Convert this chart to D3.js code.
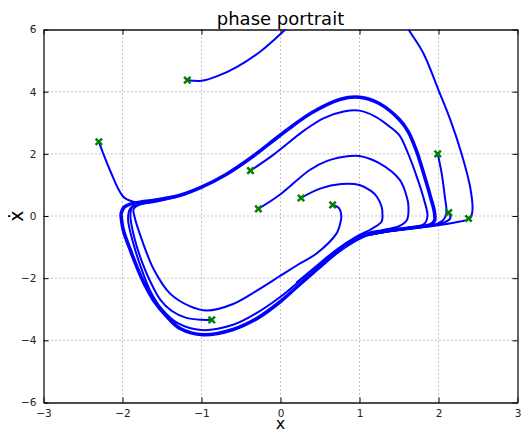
<!DOCTYPE html>
<html>
<head>
<meta charset="utf-8">
<script src="https://cdn.jsdelivr.net/npm/d3@7"></script>
<style>
  body { margin: 0; background: #fff; }
  svg { display: block; font-family: "DejaVu Sans", sans-serif; }
</style>
</head>
<body>
<div id="chart"></div>
<script>
// Axis ticks
const xTicks = [-3, -2, -1, 0, 1, 2, 3];
const yTicks = [-6, -4, -2, 0, 2, 4, 6];

// Limit cycle (the thick bundle)
const limitCycle = [
  [-2.02, 0.05], [-1.98, 0.28], [-1.88, 0.4], [-1.78, 0.44], [-1.5, 0.55], [-1.27, 0.67],
  [-1.0, 0.93], [-0.7, 1.32], [-0.36, 1.9], [-0.09, 2.43], [0.1, 2.8], [0.4, 3.33],
  [0.75, 3.75], [1.0, 3.82], [1.25, 3.62], [1.51, 3.09], [1.62, 2.7], [1.72, 2.1],
  [1.82, 1.3], [1.9, 0.6], [1.95, 0.1], [1.95, -0.15], [1.9, -0.28], [1.75, -0.35],
  [1.6, -0.4], [1.3, -0.5], [1.1, -0.6], [0.9, -0.85], [0.7, -1.2], [0.46, -1.72],
  [0.2, -2.3], [0.0, -2.75], [-0.3, -3.3], [-0.6, -3.65], [-0.98, -3.82], [-1.27, -3.62],
  [-1.45, -3.2], [-1.61, -2.7], [-1.72, -2.2], [-1.8, -1.75], [-1.9, -1.1], [-1.99, -0.45],
  [-2.02, 0.05]
];

// Trajectories from each start point until they join the bundle
const trajA = [[-2.3, 2.39], [-2.16, 1.48], [-1.99, 0.62], [-1.86, 0.46], [-1.74, 0.42], [-1.5, 0.55]];
const trajG1 = [[-1.18, 4.37], [-1.0, 4.35], [-0.8, 4.5], [-0.55, 4.8], [-0.25, 5.3], [0.02, 5.9], [0.12, 6.15], [0.2, 6.4]];
const trajG2 = [[1.5, 6.5], [1.62, 6.0], [1.81, 5.23], [2.0, 4.05], [2.15, 3.09], [2.29, 2.02], [2.4, 0.94],
  [2.43, 0.19], [2.4, -0.07], [2.27, -0.18], [1.93, -0.32], [1.6, -0.42], [1.3, -0.52], [1.1, -0.62]];
const trajM2 = [[1.99, 2.0], [2.04, 1.37], [2.08, 0.62], [2.1, 0.09], [2.06, -0.13], [1.95, -0.28], [1.6, -0.41], [1.3, -0.52], [1.1, -0.62]];
const trajM3 = [[2.13, 0.11], [2.15, -0.07], [2.08, -0.2], [1.9, -0.3], [1.6, -0.41], [1.3, -0.52], [1.1, -0.62]];
const trajB = [[-0.38, 1.46], [-0.1, 1.95], [0.31, 2.77], [0.55, 3.15], [0.8, 3.36], [1.0, 3.39], [1.2, 3.2],
  [1.38, 2.88], [1.51, 2.58], [1.6, 2.1], [1.72, 1.3], [1.82, 0.5], [1.86, 0.0], [1.82, -0.25], [1.6, -0.38],
  [1.3, -0.48], [1.1, -0.58], [0.9, -0.82]];
const trajC = [[-0.28, 0.23], [0.0, 0.7], [0.37, 1.48], [0.6, 1.78], [0.88, 1.93], [1.0, 1.93], [1.25, 1.7],
  [1.51, 1.16], [1.6, 0.6], [1.62, 0.3], [1.6, -0.13], [1.5, -0.33], [1.3, -0.45], [1.1, -0.55], [0.9, -0.78],
  [0.7, -1.12], [0.46, -1.62], [0.2, -2.18], [0.0, -2.6], [-0.3, -3.12], [-0.6, -3.5], [-1.0, -3.67],
  [-1.3, -3.45], [-1.5, -3.0], [-1.65, -2.4], [-1.76, -1.7], [-1.85, -1.0], [-1.93, -0.1], [-1.9, 0.25],
  [-1.8, 0.39], [-1.5, 0.54]];
const trajD = [[0.26, 0.58], [0.5, 0.88], [0.77, 1.03], [1.0, 1.0], [1.15, 0.8], [1.22, 0.62], [1.28, 0.3],
  [1.29, 0.09], [1.28, -0.18], [1.15, -0.42], [0.95, -0.68], [0.7, -1.1], [0.46, -1.6], [0.2, -2.15]];
const trajE = [[0.66, 0.36], [0.74, 0.25], [0.77, -0.02], [0.75, -0.3], [0.71, -0.56], [0.46, -1.2],
  [0.2, -1.6], [0.0, -1.92], [-0.3, -2.4], [-0.6, -2.83], [-0.93, -3.04], [-1.15, -2.9], [-1.4, -2.49],
  [-1.6, -1.74], [-1.75, -0.8], [-1.85, 0.0], [-1.86, 0.22], [-1.8, 0.35], [-1.6, 0.45], [-1.3, 0.62]];
const trajF = [[-0.87, -3.34], [-1.0, -3.34], [-1.2, -3.27], [-1.38, -3.05], [-1.52, -2.7], [-1.65, -2.1],
  [-1.75, -1.5], [-1.85, -0.7], [-1.9, 0.0], [-1.88, 0.27], [-1.78, 0.38], [-1.5, 0.52]];

const trajectories = [trajA, trajG1, trajG2, trajM2, trajM3, trajB, trajC, trajD, trajE, trajF];

// Initial conditions (green markers)
const startPoints = [[-2.3, 2.39], [-1.18, 4.37], [-0.38, 1.46], [-0.28, 0.23], [0.26, 0.58], [0.66, 0.36],
  [-0.87, -3.34], [1.99, 2.0], [2.13, 0.11], [2.38, -0.08]];

const width = 522, height = 433;
const pLeft = 43.5, pRight = 517.5, pTop = 29.5, pBottom = 402.5;

const svg = d3.select("#chart")
    .append("svg")
    .attr("width", width)
    .attr("height", height);

const x = d3.scaleLinear().domain([-3, 3]).range([pLeft, pRight]);
const y = d3.scaleLinear().domain([-6, 6]).range([pBottom, pTop]);

// Grid lines (dotted)
svg.append("g").selectAll("line")
    .data(xTicks.slice(1, -1))
    .enter().append("line")
    .attr("x1", d => x(d)).attr("x2", d => x(d))
    .attr("y1", pTop).attr("y2", pBottom)
    .attr("stroke", "#8a8a8a").attr("stroke-dasharray", "1,3");
svg.append("g").selectAll("line")
    .data(yTicks.slice(1, -1))
    .enter().append("line")
    .attr("y1", d => y(d)).attr("y2", d => y(d))
    .attr("x1", pLeft).attr("x2", pRight)
    .attr("stroke", "#8a8a8a").attr("stroke-dasharray", "1,3");

// Axes with inward ticks, box on
const fmt = d3.format("");
svg.append("g").attr("transform", `translate(0,${pBottom})`)
    .call(d3.axisBottom(x).tickValues(xTicks).tickSizeInner(-5).tickSizeOuter(0).tickPadding(7).tickFormat(fmt));
svg.append("g").attr("transform", `translate(${pLeft},0)`)
    .call(d3.axisLeft(y).tickValues(yTicks).tickSizeInner(-5).tickSizeOuter(0).tickPadding(7).tickFormat(fmt));
svg.append("g").attr("transform", `translate(0,${pTop})`)
    .call(d3.axisTop(x).tickValues(xTicks).tickSizeInner(-5).tickSizeOuter(0).tickFormat(""));
svg.append("g").attr("transform", `translate(${pRight},0)`)
    .call(d3.axisRight(y).tickValues(yTicks).tickSizeInner(-5).tickSizeOuter(0).tickFormat(""));

svg.selectAll(".tick text").attr("font-size", 10.5).attr("fill", "#222")
    .attr("font-family", "DejaVu Sans, sans-serif");
svg.selectAll(".domain").attr("stroke", "#111").attr("stroke-width", 1.3);

// Clip to the plot area
svg.append("clipPath").attr("id", "clip")
    .append("rect").attr("x", pLeft).attr("y", pTop)
    .attr("width", pRight - pLeft).attr("height", pBottom - pTop);

const line = d3.line()
    .x(d => x(d[0]))
    .y(d => y(d[1]))
    .curve(d3.curveCatmullRom.alpha(0.5));

const plot = svg.append("g").attr("clip-path", "url(#clip)");

plot.append("path")
    .datum(limitCycle)
    .attr("d", line)
    .attr("fill", "none")
    .attr("stroke", "#0000ff")
    .attr("stroke-width", 3.6);

plot.selectAll(".traj")
    .data(trajectories)
    .enter().append("path")
    .attr("class", "traj")
    .attr("d", line)
    .attr("fill", "none")
    .attr("stroke", "#0000ff")
    .attr("stroke-width", 2);

// Start point markers
const m = 3.2;
plot.selectAll(".mark")
    .data(startPoints)
    .enter().append("path")
    .attr("class", "mark")
    .attr("d", d => {
        const px = x(d[0]), py = y(d[1]);
        return `M${px - m},${py - m}L${px + m},${py + m}M${px - m},${py + m}L${px + m},${py - m}`;
    })
    .attr("stroke", "#008000")
    .attr("stroke-width", 2.5);

// Title and axis labels
svg.append("text")
    .attr("x", (pLeft + pRight) / 2).attr("y", 25)
    .attr("text-anchor", "middle")
    .attr("font-size", 18)
    .text("phase portrait");

svg.append("text")
    .attr("x", (pLeft + pRight) / 2).attr("y", 429)
    .attr("text-anchor", "middle")
    .attr("font-size", 16)
    .text("x");

svg.append("text")
    .attr("transform", `translate(23,${y(0)}) rotate(-90)`)
    .attr("text-anchor", "middle")
    .attr("font-size", 19)
    .text("ẋ");
</script>
</body>
</html>
